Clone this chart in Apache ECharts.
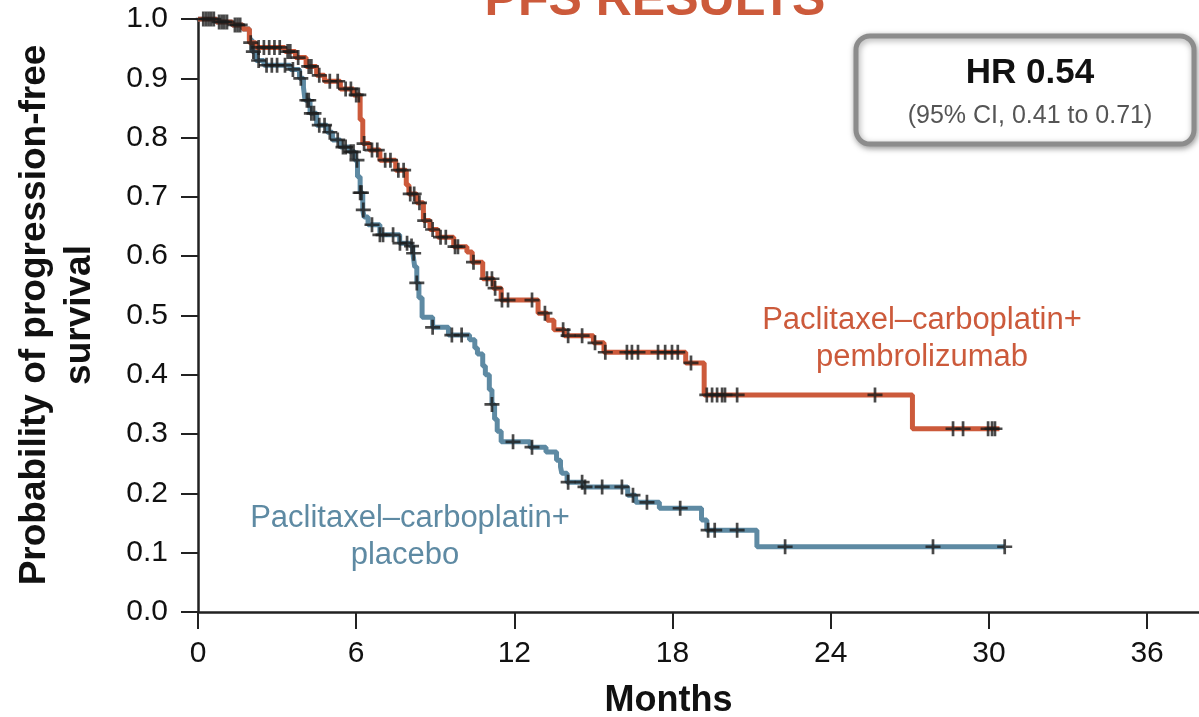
<!DOCTYPE html>
<html>
<head>
<meta charset="utf-8">
<script src="https://cdn.jsdelivr.net/npm/echarts@6/dist/echarts.min.js"></script>
<style>
  html, body { margin: 0; padding: 0; background: #fff; }
  #chart { width: 1199px; height: 717px; }
</style>
</head>
<body>
<div id="chart"></div>
<script>
// Kaplan–Meier step points: time (months) and survival after the event at that time
const pembroT = [0, 0.7, 1.3, 1.7, 1.95, 2.2, 3.3, 3.7, 4.1, 4.5, 4.8, 5.4, 5.9, 6.15, 6.25, 6.5, 6.9, 7.5, 7.9, 8.0, 8.3, 8.55, 8.8, 9.1, 9.7, 10.2, 10.4, 10.8, 11.2, 11.5, 12.9, 13.25, 13.5, 13.9, 15.0, 15.4, 18.5, 19.2, 27.1, 30.4];
const pembroS = [1.0, 0.995, 0.99, 0.983, 0.96, 0.952, 0.945, 0.935, 0.92, 0.905, 0.895, 0.882, 0.872, 0.83, 0.79, 0.779, 0.762, 0.745, 0.72, 0.705, 0.69, 0.66, 0.645, 0.632, 0.616, 0.607, 0.59, 0.562, 0.546, 0.526, 0.504, 0.492, 0.476, 0.466, 0.454, 0.438, 0.42, 0.366, 0.309, 0.309];

const placeboT = [0, 0.7, 1.3, 1.7, 1.95, 2.05, 2.2, 2.5, 3.5, 3.85, 4.0, 4.06, 4.25, 4.5, 4.9, 5.1, 5.4, 5.75, 5.95, 6.05, 6.15, 6.25, 6.3, 6.45, 6.9, 7.65, 8.05, 8.15, 8.22, 8.3, 8.38, 8.5, 8.9, 9.5, 10.3, 10.5, 10.6, 10.8, 10.9, 11.05, 11.15, 11.25, 11.35, 11.5, 12.6, 13.2, 13.6, 13.75, 13.8, 14.0, 14.6, 16.3, 16.6, 17.5, 19.1, 19.3, 21.2, 30.6];
const placeboS = [1.0, 0.995, 0.99, 0.983, 0.965, 0.945, 0.93, 0.922, 0.915, 0.9, 0.885, 0.863, 0.841, 0.821, 0.809, 0.796, 0.784, 0.776, 0.762, 0.734, 0.707, 0.678, 0.666, 0.653, 0.636, 0.622, 0.617, 0.605, 0.582, 0.555, 0.53, 0.497, 0.48, 0.467, 0.459, 0.445, 0.435, 0.415, 0.4, 0.375, 0.35, 0.325, 0.305, 0.287, 0.278, 0.27, 0.256, 0.245, 0.234, 0.219, 0.211, 0.197, 0.185, 0.175, 0.155, 0.138, 0.11, 0.11];

// Censoring times (months)
const pembroCensor = [0.3, 0.5, 0.8, 1.0, 1.4, 1.6, 2.0, 2.3, 2.5, 2.7, 2.9, 3.1, 3.4, 3.5, 3.8, 4.2, 4.3, 4.6, 5.0, 5.3, 5.6, 5.8, 6.0, 6.1, 6.3, 6.6, 6.8, 7.1, 7.3, 7.6, 7.8, 8.05, 8.2, 8.4, 8.6, 8.9, 9.2, 9.4, 9.75, 9.86, 10.45, 10.96, 11.15, 11.27, 11.53, 11.76, 12.67, 13.16, 13.85, 14.04, 14.57, 15.06, 15.45, 16.27, 16.46, 16.69, 17.45, 17.72, 17.98, 18.2, 18.7, 19.3, 19.5, 19.69, 19.88, 19.99, 20.45, 25.68, 28.64, 29.02, 29.97, 30.12, 30.23];
const placeboCensor = [0.2, 0.4, 0.6, 0.9, 1.1, 1.5, 2.1, 2.3, 2.6, 2.8, 3.0, 3.3, 3.6, 3.9, 4.13, 4.2, 4.3, 4.4, 4.6, 4.8, 5.0, 5.3, 5.5, 5.6, 5.8, 5.9, 6.03, 6.15, 6.2, 6.27, 6.6, 6.9, 7.02, 7.4, 7.66, 7.93, 8.1, 8.18, 8.3, 8.9, 9.63, 10.0, 11.15, 11.95, 12.67, 14.04, 14.57, 14.68, 15.33, 16.08, 16.5, 17.03, 18.29, 19.35, 19.6, 20.45, 22.27, 27.88, 30.6];

const xTicks = [0, 6, 12, 18, 24, 30, 36];
const yTickStep = 0.1;

const ORANGE = '#cc5a3b';
const BLUE = '#5e8aa3';
const FONT = '"Liberation Sans", Arial, Helvetica, sans-serif';

function toPairs(T, S) {
  return T.map((t, i) => [t, S[i]]);
}
function survivalAt(T, S, t) {
  let s = S[0];
  for (let i = 0; i < T.length; i++) {
    if (T[i] <= t) s = S[i]; else break;
  }
  return s;
}
function censorPoints(C, T, S) {
  return C.map(t => [t, survivalAt(T, S, t)]);
}

// "+" censor mark as a filled outline
const plusPath = 'path://M4.1,0h1.8v4.1h4.1v1.8h-4.1v4.1h-1.8v-4.1h-4.1v-1.8h4.1z';

const chart = echarts.init(document.getElementById('chart'), null, { renderer: 'canvas' });

chart.setOption({
  animation: false,
  backgroundColor: '#ffffff',
  grid: { left: 198, top: 19, width: 1001, height: 593, outerBoundsMode: 'none', containLabel: false },
  xAxis: {
    type: 'value',
    min: 0,
    max: 37.97,
    name: 'Months',
    nameLocation: 'middle',
    nameGap: 71,
    nameTextStyle: { fontFamily: FONT, fontSize: 36, fontWeight: 'bold', color: '#111', padding: [0, 0, 0, -60] },
    axisLine: { show: true, lineStyle: { color: '#222', width: 2.5 } },
    axisTick: { show: true, length: 17, lineStyle: { color: '#222', width: 2 }, customValues: xTicks },
    axisLabel: { customValues: xTicks, margin: 27, fontFamily: FONT, fontSize: 30, color: '#111' },
    splitLine: { show: false }
  },
  yAxis: {
    type: 'value',
    min: 0,
    max: 1,
    interval: yTickStep,
    axisLine: { show: true, lineStyle: { color: '#222', width: 2.5 } },
    axisTick: { show: true, length: 17, lineStyle: { color: '#222', width: 2 } },
    axisLabel: { margin: 30, fontFamily: FONT, fontSize: 30, color: '#111', formatter: v => v.toFixed(1) },
    splitLine: { show: false }
  },
  series: [
    {
      name: 'Paclitaxel–carboplatin+placebo',
      type: 'line',
      step: 'end',
      showSymbol: false,
      data: toPairs(placeboT, placeboS),
      lineStyle: { color: BLUE, width: 5 },
      z: 2
    },
    {
      name: 'Paclitaxel–carboplatin+pembrolizumab',
      type: 'line',
      step: 'end',
      showSymbol: false,
      data: toPairs(pembroT, pembroS),
      lineStyle: { color: ORANGE, width: 5 },
      z: 3
    },
    {
      name: 'placebo censored',
      type: 'scatter',
      symbol: plusPath,
      symbolSize: 15,
      data: censorPoints(placeboCensor, placeboT, placeboS),
      itemStyle: { color: '#1c1c1c' },
      z: 4
    },
    {
      name: 'pembrolizumab censored',
      type: 'scatter',
      symbol: plusPath,
      symbolSize: 15,
      data: censorPoints(pembroCensor, pembroT, pembroS),
      itemStyle: { color: '#1c1c1c' },
      z: 4
    }
  ],
  graphic: [
    {
      type: 'text',
      x: 655, y: -24,
      style: { text: 'PFS RESULTS', fontFamily: FONT, fontSize: 50, fontWeight: 'bold', fill: ORANGE, textAlign: 'center' },
      z: 10
    },
    {
      type: 'text',
      x: 35, y: 315, rotation: Math.PI / 2,
      style: { text: 'Probability of progression-free', fontFamily: FONT, fontSize: 37, fontWeight: 'bold', fill: '#111', textAlign: 'center', textVerticalAlign: 'middle' }
    },
    {
      type: 'text',
      x: 80, y: 315, rotation: Math.PI / 2,
      style: { text: 'survival', fontFamily: FONT, fontSize: 37, fontWeight: 'bold', fill: '#111', textAlign: 'center', textVerticalAlign: 'middle' }
    },
    {
      type: 'text', x: 922, y: 320,
      style: { text: 'Paclitaxel–carboplatin+', fontFamily: FONT, fontSize: 31, fill: ORANGE, textAlign: 'center', textVerticalAlign: 'middle' }
    },
    {
      type: 'text', x: 922, y: 357,
      style: { text: 'pembrolizumab', fontFamily: FONT, fontSize: 31, fill: ORANGE, textAlign: 'center', textVerticalAlign: 'middle' }
    },
    {
      type: 'text', x: 410, y: 518,
      style: { text: 'Paclitaxel–carboplatin+', fontFamily: FONT, fontSize: 31, fill: BLUE, textAlign: 'center', textVerticalAlign: 'middle' }
    },
    {
      type: 'text', x: 405, y: 555,
      style: { text: 'placebo', fontFamily: FONT, fontSize: 31, fill: BLUE, textAlign: 'center', textVerticalAlign: 'middle' }
    },
    {
      type: 'rect',
      shape: { x: 856, y: 36, width: 338, height: 108, r: 14 },
      style: { fill: '#fff', stroke: '#8c8c8c', lineWidth: 5, shadowBlur: 6, shadowColor: 'rgba(0,0,0,0.35)', shadowOffsetX: 1, shadowOffsetY: 2 },
      z: 5
    },
    {
      type: 'text', x: 1030, y: 73,
      style: { text: 'HR 0.54', fontFamily: FONT, fontSize: 35, fontWeight: 'bold', fill: '#111', textAlign: 'center', textVerticalAlign: 'middle' },
      z: 6
    },
    {
      type: 'text', x: 1030, y: 116,
      style: { text: '(95% CI, 0.41 to 0.71)', fontFamily: FONT, fontSize: 25, fill: '#555', textAlign: 'center', textVerticalAlign: 'middle' },
      z: 6
    }
  ]
});
</script>
</body>
</html>
